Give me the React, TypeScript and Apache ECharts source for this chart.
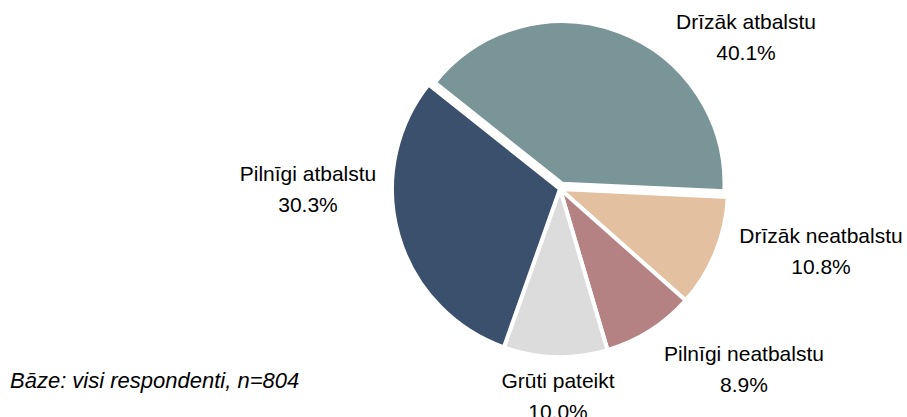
import React, { useEffect, useRef } from "react";
import * as echarts from "echarts";

const categories = [
  "Drīzāk atbalstu",
  "Drīzāk neatbalstu",
  "Pilnīgi neatbalstu",
  "Grūti pateikt",
  "Pilnīgi atbalstu",
];
const values = [40.1, 10.8, 8.9, 10.0, 30.3];
const colors = ["#7a9597", "#e2c0a0", "#b58283", "#dcdcdc", "#3b506c"];
const footnote = "Bāze: visi respondenti, n=804";
const explodedIndex = 0;

// label anchor positions (centre of two-line label block)
const labelPos: [number, number][] = [
  [746, 37],
  [821, 251],
  [744, 369],
  [558, 396],
  [308, 189],
];

export default function App() {
  const ref = useRef<HTMLDivElement>(null);
  useEffect(() => {
    if (!ref.current) return;
    const chart = echarts.init(ref.current, undefined, { renderer: "svg" });
    const font = "'Liberation Sans', Arial, sans-serif";
    const startAngle = 141.5;
    const cx = 560;
    const cy = 189;
    const total = values.reduce((a, b) => a + b, 0);
    let before = 0;
    for (let i = 0; i < explodedIndex; i++) before += values[i];
    const midDeg =
      startAngle - ((before + values[explodedIndex] / 2) / total) * 360;
    const mid = (midDeg * Math.PI) / 180;
    const offset = 5.7;
    const ecx = cx + offset * Math.cos(mid);
    const ecy = cy - offset * Math.sin(mid);

    const hidden = { color: "transparent", borderWidth: 0 };

    chart.setOption({
      animation: false,
      backgroundColor: "#ffffff",
      graphic: [
        {
          type: "text",
          left: 10,
          top: 369,
          style: {
            text: footnote,
            fontFamily: font,
            fontSize: 22,
            fontStyle: "italic",
            fill: "#000000",
          },
        },
      ],
      series: [
        {
          type: "pie",
          center: [cx, cy],
          radius: [0, 168],
          startAngle,
          clockwise: true,
          avoidLabelOverlap: false,
          itemStyle: { borderColor: "#ffffff", borderWidth: 4 },
          emphasis: { disabled: true },
          label: {
            show: true,
            position: "outside",
            fontFamily: font,
            fontSize: 21,
            lineHeight: 31,
            color: "#000000",
            align: "center",
            formatter: (p: any) => `${p.name}\n${Number(p.value).toFixed(1)}%`,
          },
          labelLine: { show: false },
          labelLayout: (p: any) => ({
            x: labelPos[p.dataIndex][0],
            y: labelPos[p.dataIndex][1],
            align: "center",
            verticalAlign: "middle",
          }),
          data: categories.map((c, i) => ({
            name: c,
            value: values[i],
            itemStyle: i === explodedIndex ? hidden : { color: colors[i] },
          })),
        },
        {
          type: "pie",
          center: [ecx, ecy],
          radius: [0, 162.5],
          startAngle,
          clockwise: true,
          silent: true,
          itemStyle: { borderColor: "#ffffff", borderWidth: 4 },
          emphasis: { disabled: true },
          label: { show: false },
          labelLine: { show: false },
          data: categories.map((c, i) => ({
            name: c,
            value: values[i],
            itemStyle: i === explodedIndex ? { color: colors[i] } : hidden,
          })),
        },
      ],
    });
    return () => chart.dispose();
  }, []);
  return (
    <div
      ref={ref}
      style={{ position: "fixed", left: 0, top: 0, width: 907, height: 417 }}
    />
  );
}
